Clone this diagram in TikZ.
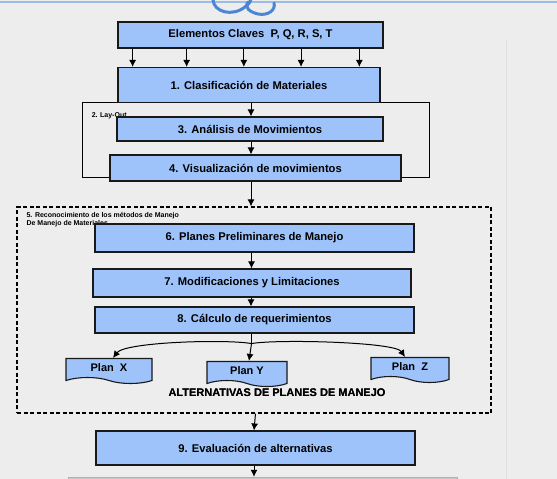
\documentclass[tikz,border=0pt]{standalone}
\usepackage{fontspec}
\usepackage[outline]{contour}
\setmainfont{Liberation Sans}
\usetikzlibrary{arrows.meta,calc,positioning,shapes.symbols}

\definecolor{cajaazul}{HTML}{9DC3FA}
\definecolor{fondo}{HTML}{EDEDED}
\definecolor{logoazul}{HTML}{4A86D4}
\contourlength{0.35pt}

\tikzset{
	caja/.style={draw=black!90, fill=cajaazul, line width=1.1pt, inner sep=0pt, font=\bfseries\fontsize{11.2}{12}\selectfont},
	marco/.style={draw=black, line width=0.9pt, inner sep=0pt},
	flecha/.style={-{Latex[length=7pt,width=7pt]}, line width=1pt},
	rotulo/.style={font=\bfseries\fontsize{7}{8}\selectfont, inner sep=0pt, anchor=north west, align=left},
	plan/.style={caja, shape=tape, tape bend top=none, tape bend bottom=out and in, tape bend height=6pt, font=\bfseries\fontsize{11}{12}\selectfont},
}

\begin{document}
\begin{tikzpicture}[x=1pt,y=-1pt]
	\fill[fondo] (0,0) rectangle (557,479);
	\useasboundingbox (0,0) rectangle (557,479);
	% adorno de la diapositiva
	\draw[logoazul!55, line width=1.5pt] (0,2) -- (557,2);
	\draw[black!12, line width=0.6pt] (506,40) -- (506,479);
	\draw[logoazul, line width=3pt, line cap=round] (213,0) .. controls (214,12) and (232,17) .. (245,7) .. controls (249,4) and (251,1) .. (251,-2);
	\draw[logoazul, line width=3pt, line cap=round] (248,2) .. controls (244,8) and (250,12) .. (258,14) .. controls (268,16) and (276,10) .. (274,3);

	% marcos
	\node[marco, minimum width=347, minimum height=75] (layout) at (255.5,139.5) {};
	\node[marco, dashed, dash pattern=on 4pt off 2.5pt, line width=1.2pt, minimum width=474, minimum height=206] (reco) at (254,310) {};
	\node[rotulo] (laylbl) at ([shift={(10,11)}]layout.north west) {2. Lay-Out};
	\node[rotulo] (recolbl) at ([shift={(10,6)}]reco.north west) {5. Reconocimiento de los métodos de Manejo\\De Manejo de Materiales};

	% cajas
	\node[caja, minimum width=265, minimum height=26] (elem) at (250.5,35) {Elementos Claves~~P, Q, R, S, T};
	\node[caja, minimum width=262, minimum height=35] (clasif) at (249,85) {1. Clasificación de Materiales};
	\node[caja, minimum width=266, minimum height=24] (analisis) at (250,129) {3. Análisis de Movimientos};
	\node[caja, minimum width=291, minimum height=26] (visual) at (255.5,168) {4. Visualización de movimientos};
	\node[caja, minimum width=319, minimum height=28] (planes) at (254.5,238) {6. Planes Preliminares de Manejo};
	\node[caja, minimum width=318, minimum height=28] (modif) at (252,283) {7. Modificaciones y Limitaciones};
	\node[caja, minimum width=319, minimum height=26] (calculo) at (254.5,320) {8. Cálculo de requerimientos};
	\node[plan, minimum width=86, minimum height=25] (planx) at (109,368) {Plan~~X};
	\node[plan, minimum width=80, minimum height=25] (plany) at (247,371) {Plan Y};
	\node[plan, minimum width=78, minimum height=25] (planz) at (410,367) {Plan~~Z};
	\node[font=\bfseries\fontsize{11}{12}\selectfont, inner sep=0pt] (alter) at (277,393) {\contour{black}{ALTERNATIVAS DE PLANES DE MANEJO}};
	\node[caja, minimum width=319, minimum height=34] (evalu) at (255.5,448) {9. Evaluación de alternativas};
	\node[draw=black!30, fill=black!22, minimum width=389, minimum height=20, inner sep=0pt] (sigue) at (262.5,487) {};

	% flechas
	\foreach \f in {0.057,0.26,0.475,0.69,0.909}{
		\path ($(elem.south west)!\f!(elem.south east)$) coordinate (t);
		\draw[flecha] (t) -- (t |- clasif.north);
	}
	\draw[flecha] ([xshift=2]clasif.south) -- ([xshift=2]clasif.south |- analisis.north);
	\draw[flecha] ([xshift=1]analisis.south) -- ([xshift=1]analisis.south |- visual.north);
	\draw[flecha] ([xshift=1]analisis.south |- visual.south) -- ([xshift=1]analisis.south |- reco.north);
	\draw[flecha] ([xshift=-3]planes.south) -- ([xshift=-3]planes.south |- modif.north);
	\draw[flecha] ([xshift=-1]modif.south) -- ([xshift=-1]modif.south |- calculo.north);
	\coordinate (junc) at ([xshift=-3,yshift=-10]calculo.south);
	\draw[line width=1pt] ([xshift=-3]calculo.south) -- (junc);
	\draw[flecha] (junc) .. controls (225,339) and (125,342) .. ([xshift=4]planx.north);
	\draw[flecha] (junc) -- ([xshift=2]plany.north);
	\draw[flecha] (junc) .. controls (278,339) and (395,342) .. ([xshift=-5]planz.north);
	\draw[flecha] (evalu.north |- reco.south) -- ([xshift=-1.5]evalu.north);
	\draw[flecha] ([xshift=-1.5]evalu.south) -- ([xshift=-1.5]evalu.south |- sigue.north);
\end{tikzpicture}
\end{document}
